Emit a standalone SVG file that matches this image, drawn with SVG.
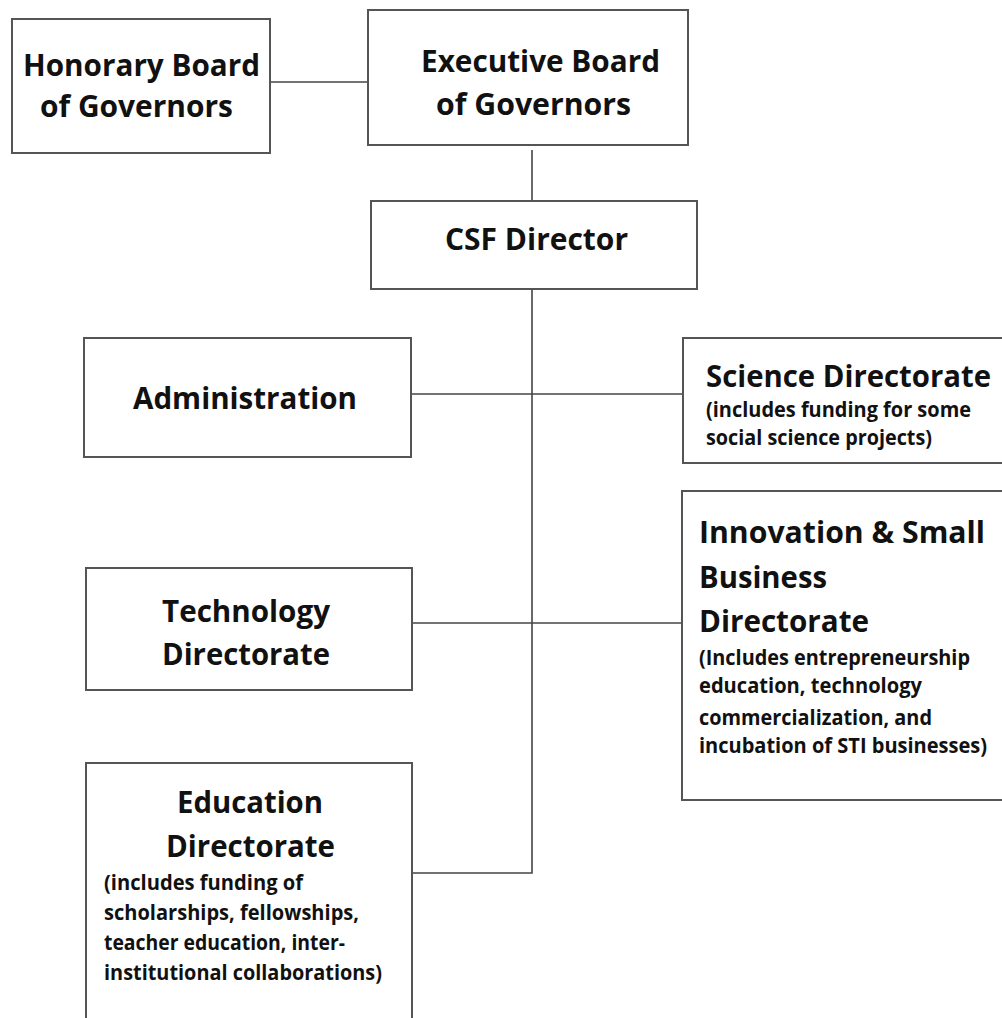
<svg xmlns="http://www.w3.org/2000/svg" width="1002" height="1018" viewBox="0 0 1002 1018">
<style>
.box{fill:#fff;stroke:#555;stroke-width:2}
.ln{fill:none;stroke:#444;stroke-width:1.6}
text{font-family:"Open Sans","Noto Sans","Liberation Sans",sans-serif;font-weight:700;fill:#111}
.t{font-size:30px}
.s{font-size:21px}
</style>
<rect width="1002" height="1018" fill="#fff"/>
<g id="connectors">
<path class="ln" d="M270 82H368"/>
<path class="ln" d="M532 150V201"/>
<path class="ln" d="M532 289V873H412"/>
<path class="ln" d="M411 394H683"/>
<path class="ln" d="M412 623H682"/>
</g>
<g id="honorary">
<rect class="box" x="12" y="19" width="258" height="134"/>
<text class="t" x="23" y="76" textLength="237" lengthAdjust="spacingAndGlyphs">Honorary Board</text>
<text class="t" x="40" y="117" textLength="193" lengthAdjust="spacingAndGlyphs">of Governors</text>
</g>
<g id="executive">
<rect class="box" x="368" y="10" width="320" height="135"/>
<text class="t" x="421" y="72" textLength="239" lengthAdjust="spacingAndGlyphs">Executive Board</text>
<text class="t" x="436" y="115" textLength="195" lengthAdjust="spacingAndGlyphs">of Governors</text>
</g>
<g id="csf-director">
<rect class="box" x="371" y="201" width="326" height="88"/>
<text class="t" x="445" y="250" textLength="183" lengthAdjust="spacingAndGlyphs">CSF Director</text>
</g>
<g id="administration">
<rect class="box" x="84" y="338" width="327" height="119"/>
<text class="t" x="133" y="409" textLength="224" lengthAdjust="spacingAndGlyphs">Administration</text>
</g>
<g id="science">
<rect class="box" x="683" y="338" width="330" height="125"/>
<text class="t" x="706" y="387" textLength="285" lengthAdjust="spacingAndGlyphs" style="font-size:31px">Science Directorate</text>
<text class="s" x="706" y="417" textLength="265" lengthAdjust="spacingAndGlyphs">(includes funding for some</text>
<text class="s" x="706" y="445" textLength="226" lengthAdjust="spacingAndGlyphs">social science projects)</text>
</g>
<g id="technology">
<rect class="box" x="86" y="568" width="326" height="122"/>
<text class="t" x="162" y="622" textLength="168" lengthAdjust="spacingAndGlyphs">Technology</text>
<text class="t" x="162" y="665" textLength="168" lengthAdjust="spacingAndGlyphs">Directorate</text>
</g>
<g id="innovation">
<rect class="box" x="682" y="491" width="330" height="309"/>
<text class="t" x="699" y="543" textLength="286" lengthAdjust="spacingAndGlyphs">Innovation &amp; Small</text>
<text class="t" x="699" y="588" textLength="128" lengthAdjust="spacingAndGlyphs">Business</text>
<text class="t" x="699" y="632" textLength="170" lengthAdjust="spacingAndGlyphs">Directorate</text>
<text class="s" x="699" y="665" textLength="271" lengthAdjust="spacingAndGlyphs">(Includes entrepreneurship</text>
<text class="s" x="699" y="693" textLength="223" lengthAdjust="spacingAndGlyphs">education, technology</text>
<text class="s" x="699" y="725" textLength="233" lengthAdjust="spacingAndGlyphs">commercialization, and</text>
<text class="s" x="699" y="753" textLength="288" lengthAdjust="spacingAndGlyphs">incubation of STI businesses)</text>
</g>
<g id="education">
<rect class="box" x="86" y="763" width="326" height="300"/>
<text class="t" x="177" y="813" textLength="146" lengthAdjust="spacingAndGlyphs">Education</text>
<text class="t" x="166" y="857" textLength="169" lengthAdjust="spacingAndGlyphs">Directorate</text>
<text class="s" x="104" y="890" textLength="199" lengthAdjust="spacingAndGlyphs">(includes funding of</text>
<text class="s" x="104" y="920" textLength="255" lengthAdjust="spacingAndGlyphs">scholarships, fellowships,</text>
<text class="s" x="104" y="950" textLength="241" lengthAdjust="spacingAndGlyphs">teacher education, inter-</text>
<text class="s" x="104" y="980" textLength="278" lengthAdjust="spacingAndGlyphs">institutional collaborations)</text>
</g>
</svg>
